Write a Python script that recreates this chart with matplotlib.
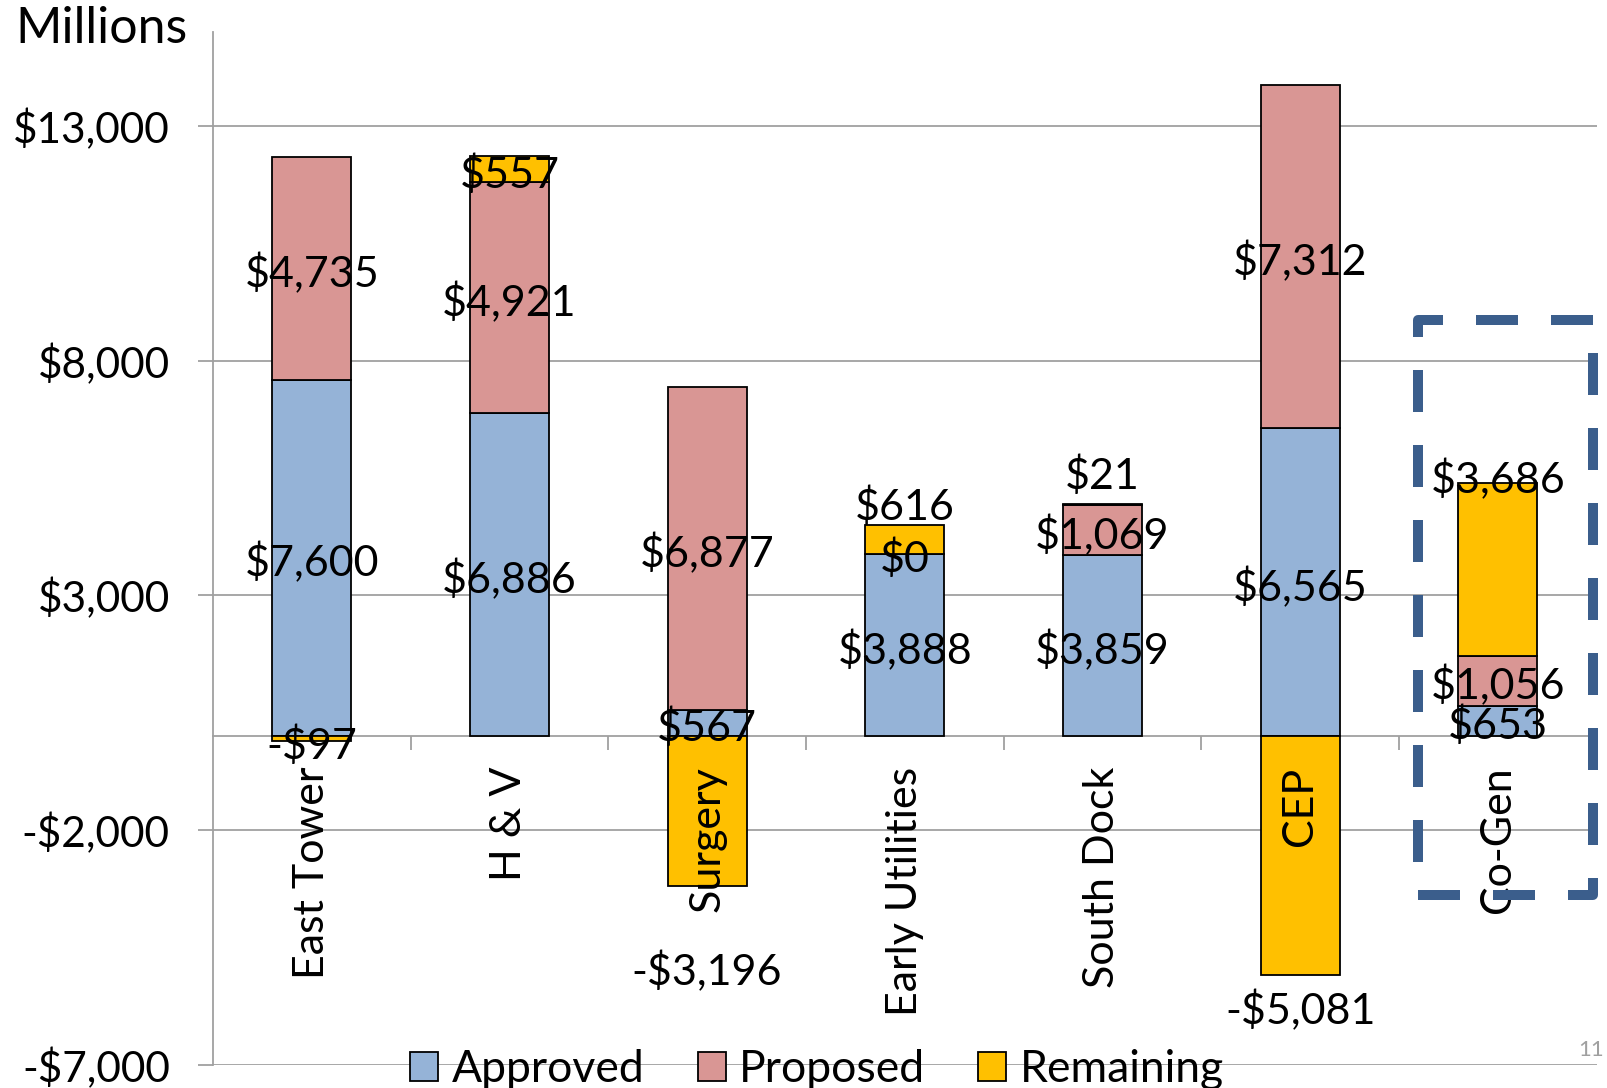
import matplotlib
matplotlib.use('Agg')
import matplotlib.pyplot as plt
from matplotlib.patches import Rectangle, Patch
from matplotlib.ticker import FuncFormatter, FixedLocator

plt.rcParams['font.family'] = ['Lato', 'DejaVu Sans']

categories = ['East Tower', 'H & V', 'Surgery', 'Early Utilities', 'South Dock', 'CEP', 'Co-Gen']
approved = [7600, 6886, 567, 3888, 3859, 6565, 653]
proposed = [4735, 4921, 6877, 0, 1069, 7312, 1056]
remaining = [-97, 557, -3196, 616, 21, -5081, 3686]
y_ticks = [-7000, -2000, 3000, 8000, 13000]

# offset (points) of each remaining label from the end of its bar
rem_offset = [0, -10, -58, 17, 24, -22, 6]

c_app = '#95B3D7'
c_pro = '#D99694'
c_rem = '#FFC000'
grid_c = '#A0A0A0'
fs = 31
dy = -3.7  # nudge so the digits sit centred like the original


def money(v, pos=None):
    v = int(round(v))
    return ('-$' if v < 0 else '$') + format(abs(v), ',')


fig = plt.figure(figsize=(16.07, 10.88), dpi=100)
ax = fig.add_axes([0.1325, 0.0214, 0.861, 0.949])

x = list(range(len(categories)))
w = 0.40
top_pro = [a + p for a, p in zip(approved, proposed)]
rem_bottom = [t if r > 0 else 0 for t, r in zip(top_pro, remaining)]

ax.bar(x, approved, w, color=c_app, edgecolor='black', linewidth=1.3, zorder=2)
ax.bar(x, proposed, w, bottom=approved, color=c_pro, edgecolor='black', linewidth=1.3, zorder=2)
ax.bar(x, remaining, w, bottom=rem_bottom, color=c_rem, edgecolor='black', linewidth=1.3, zorder=2)

# segment labels
for i in x:
    ax.annotate(money(approved[i]), (i, approved[i] / 2), xytext=(0, dy),
                textcoords='offset points', ha='center', va='center',
                fontsize=fs, zorder=5)
    ax.annotate(money(proposed[i]), (i, approved[i] + proposed[i] / 2), xytext=(0, dy),
                textcoords='offset points', ha='center', va='center',
                fontsize=fs, zorder=5)
    end = rem_bottom[i] + remaining[i]
    ax.annotate(money(remaining[i]), (i, end), xytext=(0, rem_offset[i] + dy),
                textcoords='offset points', ha='center', va='center',
                fontsize=fs, zorder=5)
    # category labels
    ax.annotate(categories[i], (i, 0), xytext=(0, -22), textcoords='offset points',
                rotation=90, ha='center', va='top', fontsize=fs, zorder=5)

ax.set_xlim(-0.5, 6.5)
ax.set_ylim(-7000, 15000)
ax.yaxis.set_major_locator(FixedLocator(y_ticks))
ax.yaxis.set_major_formatter(FuncFormatter(money))
ax.tick_params(axis='y', labelsize=30.5, length=11, width=1.3, color=grid_c, pad=20)
ax.set_xticks([i + 0.5 for i in x])
ax.tick_params(axis='x', labelbottom=False, length=10, width=1.3, color=grid_c,
               direction='out')
ax.grid(axis='y', color=grid_c, linewidth=1.3)
ax.set_axisbelow(True)

for s in ['top', 'right']:
    ax.spines[s].set_visible(False)
ax.spines['left'].set_color(grid_c)
ax.spines['left'].set_linewidth(1.3)
ax.spines['bottom'].set_position(('data', 0))
ax.spines['bottom'].set_color(grid_c)
ax.spines['bottom'].set_linewidth(1.3)
ax.spines['bottom'].set_zorder(1)

# dashed highlight box around Co-Gen
box = Rectangle((5.595, -3387), 0.885, 12247, fill=False, edgecolor='#3B5E8C',
                linewidth=7.2, linestyle=(0, (4.2, 3.3)), joinstyle='round',
                clip_on=False, zorder=6)
ax.add_patch(box)

fig.text(15 / 1607, 1 - 43 / 1088, 'Millions', fontsize=36, va='baseline', ha='left')
fig.text(0.998, 1 - 1050 / 1088, '11', fontsize=16, color='#A0A0A0', ha='right', va='center')

handles = [Patch(facecolor=c, edgecolor='black', linewidth=1.3) for c in (c_app, c_pro, c_rem)]
fig.legend(handles, ['Approved', 'Proposed', 'Remaining'], loc='center',
           bbox_to_anchor=(0.5084, 1 - 1070 / 1088), ncol=3, frameon=False, fontsize=32,
           handlelength=0.63, handleheight=0.63, handletextpad=0.3, columnspacing=1.2,
           borderpad=0)

fig.savefig('out.png', dpi=100)
